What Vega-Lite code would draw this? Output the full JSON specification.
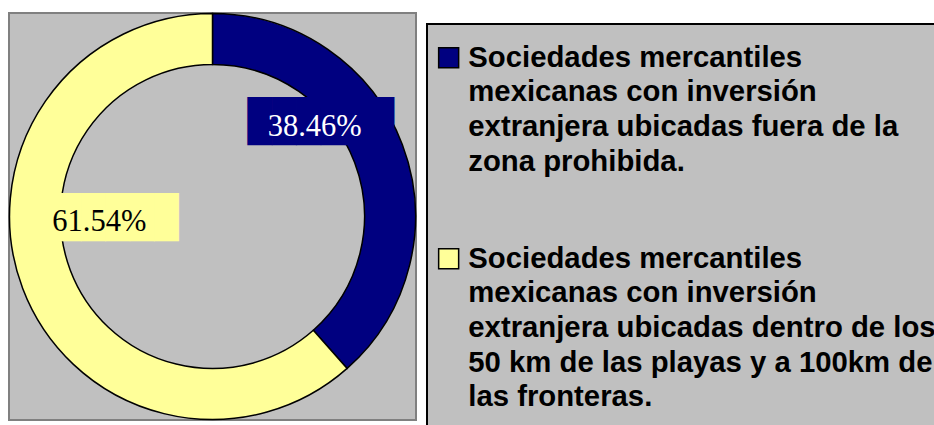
{
  "$schema": "https://vega.github.io/schema/vega-lite/v6.json",
  "width": 407,
  "height": 407,
  "autosize": {"type": "none"},
  "padding": {"left": 9, "top": 13, "right": 518, "bottom": 5},
  "background": "white",
  "view": {"fill": "#C0C0C0", "stroke": "#808080", "strokeWidth": 2},
  "data": {
    "values": [
      {"cat": "Sociedades mercantiles\nmexicanas con inversión\nextranjera ubicadas fuera de la\nzona prohibida.", "share": 0.3846},
      {"cat": "Sociedades mercantiles\nmexicanas con inversión\nextranjera ubicadas dentro de los\n50 km de las playas y a 100km de\nlas fronteras.", "share": 0.6154}
    ]
  },
  "encoding": {
    "theta": {"field": "share", "type": "quantitative", "stack": true},
    "order": {"field": "share", "sort": "ascending"}
  },
  "layer": [
    {
      "mark": {"type": "arc", "outerRadius": 203, "innerRadius": 152, "stroke": "black", "strokeWidth": 1.5},
      "encoding": {
        "color": {
          "field": "cat",
          "type": "nominal",
          "scale": {
            "domain": [
              "Sociedades mercantiles\nmexicanas con inversión\nextranjera ubicadas fuera de la\nzona prohibida.",
              "Sociedades mercantiles\nmexicanas con inversión\nextranjera ubicadas dentro de los\n50 km de las playas y a 100km de\nlas fronteras."
            ],
            "range": ["#000080", "#FFFF99"]
          },
          "legend": {
            "orient": "none",
            "legendX": 418,
            "legendY": 11,
            "title": " ",
            "titleFontSize": 1,
            "titlePadding": 11,
            "padding": 7,
            "fillColor": "#C0C0C0",
            "strokeColor": "black",
            "symbolType": "square",
            "symbolSize": 400,
            "symbolStrokeColor": "black",
            "symbolStrokeWidth": 1.5,
            "symbolOpacity": 1,
            "labelFont": "Liberation Sans",
            "labelFontWeight": "bold",
            "labelFontSize": 29.3,
            "labelColor": "black",
            "labelLimit": 2000,
            "labelOffset": 5,
            "rowPadding": 32,
            "labelExpr": "split(datum.label + '\\n', '\\n')",
            "encode": {"labels": {"update": {"lineHeight": {"value": 34.7}}}}
          }
        }
      }
    },
    {
      "mark": {
        "type": "text",
        "radius": 120,
        "font": "DejaVu Sans Mono",
        "fontSize": 40.5,
        "align": "center",
        "baseline": "middle",
        "dx": {"expr": "indexof(datum.cat, 'fuera') >= 0 ? -4 : 5"},
        "dy": {"expr": "indexof(datum.cat, 'fuera') >= 0 ? -51 : -40"}
      },
      "encoding": {
        "text": {"value": "██████"},
        "color": {"field": "cat", "type": "nominal", "legend": null}
      }
    },
    {
      "mark": {
        "type": "text",
        "radius": 120,
        "font": "Liberation Serif",
        "fontSize": 30.5,
        "align": "center",
        "baseline": "middle",
        "dx": {"expr": "indexof(datum.cat, 'fuera') >= 0 ? -10 : -1"},
        "dy": {"expr": "indexof(datum.cat, 'fuera') >= 0 ? -47 : -37"}
      },
      "encoding": {
        "text": {"field": "share", "type": "quantitative", "format": ".2%"},
        "color": {
          "condition": {"test": "indexof(datum.cat, 'fuera') >= 0", "value": "white"},
          "value": "black"
        }
      }
    }
  ],
  "config": {
    "view": {"fill": "#C0C0C0", "stroke": "#808080", "strokeWidth": 2},
    "legend": {"strokeWidth": 2}
  }
}
